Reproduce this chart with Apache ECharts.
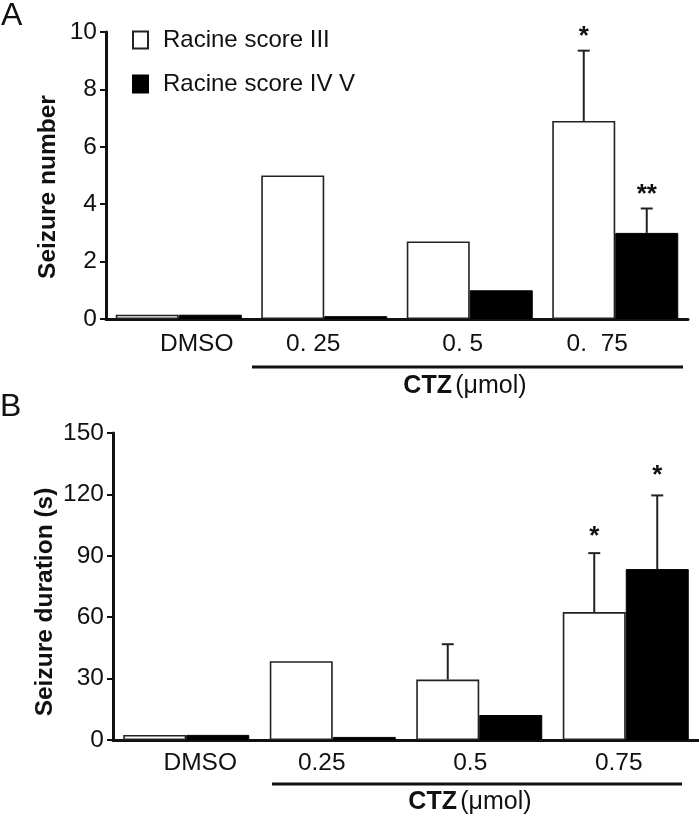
<!DOCTYPE html>
<html>
<head>
<meta charset="utf-8">
<script src="https://cdn.jsdelivr.net/npm/echarts@6/dist/echarts.min.js"></script>
<style>
html,body{margin:0;padding:0;background:#fff;}
#chart{width:699px;height:816px;}
</style>
</head>
<body>
<div id="chart"></div>
<script>
// ---- data ----
const seriesNames = ['Racine score III', 'Racine score IV V'];
const categoriesA = ['DMSO', '0. 25', '0. 5', '0.  75'];
const categoriesB = ['DMSO', '0.25', '0.5', '0.75'];
// Panel A: seizure number
const numIII = [0.15, 5.0, 2.7, 6.9];
const numIVV = [0.15, 0.1, 1.0, 3.0];
const numIIIErr = [0, 0, 0, 2.45];
const numIVVErr = [0, 0, 0, 0.85];
const numIIISig = ['', '', '', '*'];
const numIVVSig = ['', '', '', '**'];
// Panel B: seizure duration (s)
const durIII = [2.5, 38.5, 29.5, 62.5];
const durIVV = [2.5, 1.5, 12.2, 83.5];
const durIIIErr = [0, 0, 17.3, 28.8];
const durIVVErr = [0, 0, 0, 36.0];
const durIIISig = ['', '', '', '*'];
const durIVVSig = ['', '', '', '*'];
const yTicksA = {min: 0, max: 10, interval: 2};
const yTicksB = {min: 0, max: 150, interval: 30};

// ---- style ----
const FONT = '"Liberation Sans", Arial, Helvetica, sans-serif';
const INK = '#111';
const BAR_W = 63;
const labelPadA = [[0,0,0,36],[0,22,0,0],[0,14,0,0],[0,36,0,0]];
const labelPadB = [[0,0,0,28],[0,22,0,0],[0,18,0,0],[0,14,0,0]];

function richFor(pads) {
  const r = {};
  pads.forEach((p, i) => { r['p' + i] = {padding: p, fontSize: 24.5, fontFamily: FONT, color: INK}; });
  return r;
}

function xAxisFor(gi, cats, pads, margin) {
  return {
    type: 'category', gridIndex: gi, data: cats,
    axisLine: {lineStyle: {color: INK, width: 3}},
    axisTick: {show: false},
    axisLabel: {
      margin: margin, interval: 0,
      formatter: (v, i) => '{p' + i + '|' + v + '}',
      rich: richFor(pads)
    }
  };
}
function yAxisFor(gi, t) {
  return {
    type: 'value', gridIndex: gi, min: t.min, max: t.max, interval: t.interval,
    axisLine: {show: true, lineStyle: {color: INK, width: 3}},
    axisTick: {show: true, length: 6, lineStyle: {color: INK, width: 2}},
    splitLine: {show: false},
    axisLabel: {fontSize: 24.5, fontFamily: FONT, color: INK, margin: 9}
  };
}

const whiteStyle = {color: '#fff', borderColor: '#222', borderWidth: 1.6};
const blackStyle = {color: '#000', borderColor: '#000', borderWidth: 1};

function barSeries(name, gi, data, style) {
  return {
    name: name, type: 'bar', xAxisIndex: gi, yAxisIndex: gi,
    data: data, barWidth: BAR_W, barGap: '0%', itemStyle: style,
    emphasis: {disabled: true}, animation: false
  };
}

function errSeries(gi, vals, errs, sigs, side, starGap) {
  return {
    type: 'custom', xAxisIndex: gi, yAxisIndex: gi, animation: false, silent: true,
    data: vals.map((v, i) => [i, v, errs[i]]),
    z: 5,
    renderItem: function (params, api) {
      const idx = api.value(0), v = api.value(1), e = api.value(2);
      const sig = sigs[params.dataIndex];
      const children = [];
      const dx = side * BAR_W / 2;
      const base = api.coord([idx, v]);
      const top = api.coord([idx, v + e]);
      const x = base[0] + dx;
      if (e > 0) {
        children.push({type: 'line', shape: {x1: x, y1: base[1], x2: x, y2: top[1]},
          style: {stroke: '#222', lineWidth: 2}});
        children.push({type: 'line', shape: {x1: x - 6, y1: top[1], x2: x + 6, y2: top[1]},
          style: {stroke: '#222', lineWidth: 2}});
      }
      if (sig) {
        children.push({type: 'text', x: x, y: top[1] - starGap,
          style: {text: sig, font: 'bold 26px ' + FONT, fill: INK, align: 'center', verticalAlign: 'middle'}});
      }
      return {type: 'group', children: children};
    }
  };
}

const chart = echarts.init(document.getElementById('chart'), null, {renderer: 'canvas'});
chart.setOption({
  backgroundColor: '#fff',
  animation: false,
  textStyle: {fontFamily: FONT, color: INK},
  grid: [
    {left: 106, top: 32, width: 582, height: 287},
    {left: 113, top: 433, width: 586, height: 307}
  ],
  legend: {
    orient: 'vertical', left: 127, top: 23, itemWidth: 15, itemHeight: 17, itemGap: 20,
    selectedMode: false, icon: 'rect',
    data: seriesNames,
    textStyle: {fontSize: 24, fontFamily: FONT, color: INK, padding: [0, 0, 0, 10]}
  },
  xAxis: [xAxisFor(0, categoriesA, labelPadA, 13), xAxisFor(1, categoriesB, labelPadB, 11)],
  yAxis: [yAxisFor(0, yTicksA), yAxisFor(1, yTicksB)],
  series: [
    barSeries(seriesNames[0], 0, numIII, whiteStyle),
    barSeries(seriesNames[1], 0, numIVV, blackStyle),
    barSeries(seriesNames[0], 1, durIII, whiteStyle),
    barSeries(seriesNames[1], 1, durIVV, blackStyle),
    errSeries(0, numIII, numIIIErr, numIIISig, -1, 14),
    errSeries(0, numIVV, numIVVErr, numIVVSig, 1, 14),
    errSeries(1, durIII, durIIIErr, durIIISig, -1, 16),
    errSeries(1, durIVV, durIVVErr, durIVVSig, 1, 20)
  ],
  graphic: [
    {type: 'text', left: 1, top: 0, style: {text: 'A', font: '32px ' + FONT, fill: INK}},
    {type: 'text', left: 0, top: 391, style: {text: 'B', font: '32px ' + FONT, fill: INK}},
    {type: 'text', x: 48, y: 187, rotation: Math.PI / 2,
      style: {text: 'Seizure number', font: 'bold 24.5px ' + FONT, fill: INK, align: 'center', verticalAlign: 'middle'}},
    {type: 'text', x: 45, y: 602, rotation: Math.PI / 2,
      style: {text: 'Seizure duration (s)', font: 'bold 24.5px ' + FONT, fill: INK, align: 'center', verticalAlign: 'middle'}},
    {type: 'line', shape: {x1: 252, y1: 367, x2: 683, y2: 367}, style: {stroke: INK, lineWidth: 3}},
    {type: 'line', shape: {x1: 272, y1: 784, x2: 682, y2: 784}, style: {stroke: INK, lineWidth: 3}},
    {type: 'text', x: 465, y: 386,
      style: {text: '{b|CTZ} {n|(μmol)}', align: 'center', verticalAlign: 'middle',
        rich: {b: {font: 'bold 25px ' + FONT, fill: INK}, n: {font: '25px ' + FONT, fill: INK}}}},
    {type: 'text', x: 470, y: 802,
      style: {text: '{b|CTZ} {n|(μmol)}', align: 'center', verticalAlign: 'middle',
        rich: {b: {font: 'bold 25px ' + FONT, fill: INK}, n: {font: '25px ' + FONT, fill: INK}}}}
  ]
});
</script>
</body>
</html>
